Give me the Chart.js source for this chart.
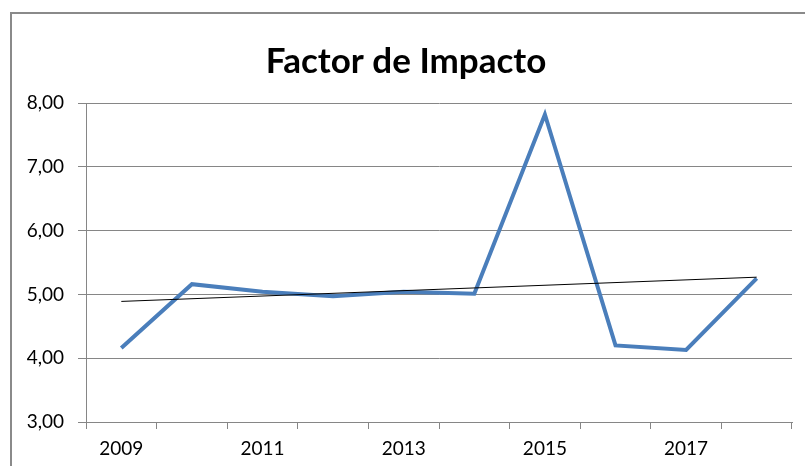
<!DOCTYPE html>
<html>
<head>
<meta charset="utf-8">
<script src="https://cdn.jsdelivr.net/npm/chart.js@4"></script>
<style>
    body { margin: 0; background: #fff; }
    #caixa { width: 805px; height: 466px; }
</style>
</head>
<body>
<div id="caixa"><canvas id="graficoImpacto" width="805" height="466"></canvas></div>
<script>
// dados do gráfico
var anos = ['2009', '2010', '2011', '2012', '2013', '2014', '2015', '2016', '2017', '2018'];
var fatorImpacto = [4.16, 5.16, 5.04, 4.97, 5.04, 5.01, 7.82, 4.20, 4.13, 5.25];
// linha de tendência (só as pontas)
var tendencia = [4.89, null, null, null, null, null, null, null, null, 5.27];
var ticksY = [3, 4, 5, 6, 7, 8];

// moldura do gráfico (só esquerda e topo aparecem)
var moldura = {
    id: 'moldura',
    afterDraw: function (chart) {
        var ctx = chart.ctx;
        ctx.save();
        ctx.strokeStyle = '#8a8a8a';
        ctx.lineWidth = 2;
        ctx.beginPath();
        ctx.moveTo(11, 466);
        ctx.lineTo(11, 13);
        ctx.lineTo(805, 13);
        ctx.stroke();
        ctx.restore();
    }
};

var ctx = document.getElementById('graficoImpacto').getContext('2d');

new Chart(ctx, {
    type: 'line',
    data: {
        labels: anos,
        datasets: [{
            label: 'Factor de Impacto',
            data: fatorImpacto,
            borderColor: '#4a7ebb',
            borderWidth: 4,
            pointRadius: 0,
            tension: 0,
            order: 2
        }, {
            label: 'Tendencia',
            data: tendencia,
            borderColor: '#000000',
            borderWidth: 1,
            pointRadius: 0,
            spanGaps: true,
            order: 1
        }]
    },
    plugins: [moldura],
    options: {
        responsive: false,
        animation: false,
        layout: {
            padding: { left: 20, right: 13, top: 0, bottom: 0 }
        },
        plugins: {
            legend: { display: false },
            tooltip: { enabled: false },
            title: {
                display: true,
                text: 'Factor de Impacto',
                color: '#000000',
                font: { family: 'Lato', size: 35, weight: 'bold', lineHeight: 1.2 },
                padding: { top: 41, bottom: 20 }
            }
        },
        scales: {
            y: {
                min: 3,
                max: 8,
                afterBuildTicks: function (scale) {
                    scale.ticks = ticksY.map(function (v) { return { value: v }; });
                },
                afterFit: function (scale) {
                    scale.width = 66;
                },
                ticks: {
                    color: '#000000',
                    padding: 14,
                    font: { family: 'Lato', size: 19 },
                    callback: function (v) {
                        return v.toFixed(2).replace('.', ',');
                    }
                },
                grid: {
                    color: '#868686',
                    lineWidth: 1,
                    tickLength: 8
                },
                border: { color: '#868686', width: 1 }
            },
            x: {
                offset: true,
                afterFit: function (scale) {
                    scale.height = 44;
                },
                ticks: {
                    color: '#000000',
                    autoSkip: false,
                    maxRotation: 0,
                    padding: 8,
                    font: { family: 'Lato', size: 19 },
                    callback: function (v, i) {
                        return i % 2 == 0 ? anos[i] : '';
                    }
                },
                grid: {
                    offset: true,
                    drawOnChartArea: false,
                    color: '#868686',
                    tickLength: 7
                },
                border: { color: '#868686', width: 1 }
            }
        }
    }
});
</script>
</body>
</html>
